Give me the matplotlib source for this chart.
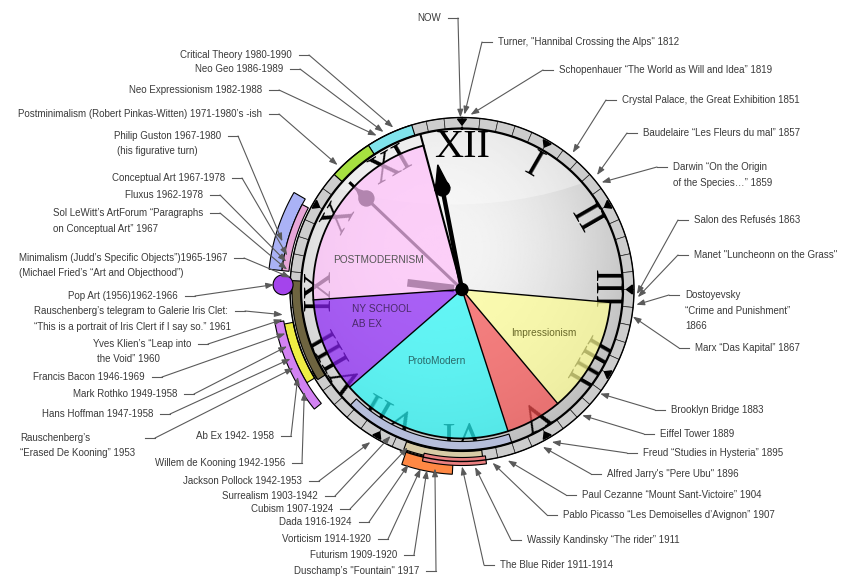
import numpy as np
import matplotlib.pyplot as plt
from matplotlib.patches import Polygon, Circle, Ellipse
from matplotlib import font_manager as fm

# ---------------- data ----------------
numerals = ['XII', 'I', 'II', 'III', 'IIII', 'V', 'VI', 'VII', 'VIII', 'IX', 'X', 'XI']

# movements drawn as sectors of the face, degrees clockwise from XII
move_names = ['POSTMODERNISM', 'NY SCHOOL\nAB EX', 'ProtoModern', '', 'Impressionism']
move_from = [266, 229, 162, 140, 95]
move_to = [345, 266, 229, 162, 140]

# coloured arcs around the rim (degrees clockwise from XII)
band_from = [327, 312, 276, 276, 238, 239, 231, 162, 173, 183, 172]
band_to = [343, 327, 300, 298, 273, 259, 260, 224, 200, 199, 193]

# events, right hand side: text and clock angle the arrow points at
right_text = [
    'Turner, "Hannibal Crossing the Alps" 1812',
    'Schopenhauer \u201cThe World as Will and Idea\u201d 1819',
    'Crystal Palace, the Great Exhibition 1851',
    'Baudelaire \u201cLes Fleurs du mal\u201d 1857',
    'Darwin \u201cOn the Origin\nof the Species\u2026\u201d 1859',
    'Salon des Refus\u00e9s 1863',
    'Manet "Luncheonn on the Grass"',
    'Dostoyevsky\n\u201cCrime and Punishment\u201d\n1866',
    'Marx \u201cDas Kapital\u201d 1867',
    'Brooklyn Bridge 1883',
    'Eiffel Tower 1889',
    'Freud \u201cStudies in Hysteria\u201d 1895',
    'Alfred Jarry\'s "Pere Ubu" 1896',
    'Paul Cezanne \u201cMount Sant-Victoire\u201d 1904',
    'Pablo Picasso \u201cLes Demoiselles d\u2019Avignon\u201d 1907',
    'Wassily Kandinsky \u201cThe rider\u201d 1911',
    'The Blue Rider 1911-1914',
]
right_deg = [0.8, 2.8, 39, 49.7, 52.5, 91.5, 92.5, 95, 99, 127, 136.3,
             149.5, 152.8, 165, 170, 175.8, 180]

# events, left hand side
left_text = [
    'NOW',
    'Critical Theory 1980-1990',
    'Neo Geo 1986-1989',
    'Neo Expressionism 1982-1988',
    'Postminimalism (Robert Pinkas-Witten) 1971-1980\u2019s -ish',
    'Philip Guston 1967-1980\n(his figurative turn)',
    'Conceptual Art 1967-1978',
    'Fluxus 1962-1978',
    'Sol LeWitt\u2019s ArtForum \u201cParagraphs\non Conceptual Art\u201d 1967',
    'Minimalism (Judd\u2019s Specific Objects\u201d)1965-1967\n(Michael Fried\u2019s \u201cArt and Objecthood\u201d)',
    'Pop Art (1956)1962-1966',
    'Rauschenberg\u2019s telegram to Galerie Iris Clet:\n\u201cThis is a portrait of Iris Clert if I say so.\u201d 1961',
    'Yves Klien\u2019s \u201cLeap into\nthe Void\u201d 1960',
    'Francis Bacon 1946-1969',
    'Mark Rothko 1949-1958',
    'Hans Hoffman 1947-1958',
    'Rauschenberg\u2019s\n\u201cErased De Kooning\u201d 1953',
    'Ab Ex 1942- 1958',
    'Willem de Kooning 1942-1956',
    'Jackson Pollock 1942-1953',
    'Surrealism 1903-1942',
    'Cubism 1907-1924',
    'Dada 1916-1924',
    'Vorticism 1914-1920',
    'Futurism 1909-1920',
    'Duschamp\u2019s "Fountain" 1917',
]
left_deg = [359.5, 337, 333.5, 331, 315, 285, 281, 279, 276.5, 274, 271.5,
            262, 260.5, 256, 252, 248, 245, 242, 237, 211, 206, 199, 197,
            193, 191, 188.6]

# ---------------- layout / style ----------------
cx, cy = 462, 289.5
R_WEDGE, R_FACE, R_RING, R_NUM = 149, 161, 172, 142

move_colors = [(1.0, 0.75, 0.98), (0.54, 0.13, 0.97), (0.15, 0.97, 0.97),
               (0.97, 0.31, 0.31), (1.0, 1.0, 0.58)]
move_text_colors = ['#555555', '#4a2a6a', '#2a6a6a', '#000000', '#6a6a2a']
move_text_xy = [(333, 260), (352, 309), (407, 361), (0, 0), (511, 333)]

band_r_in = [161, 161, 181, 174, 161, 172, 181, 152, 162, 171, 168]
band_r_out = [172, 172, 194, 181, 170, 181, 190, 161, 170, 185, 176]
band_colors = ['#80e4ec', '#a6e040', '#aab2f6', '#e8a6d8', '#6e6440', '#eeee44',
               '#d282f2', '#b6bedb', '#d8cba6', '#ff8844', '#ea8080']

right_tip_r = [175, 175, 176, 177, 176, 175, 176, 175, 173, 173, 174,
               177, 177, 177, 176, 178, 177]
right_xy = [(498, 42), (559, 70), (622, 100), (643, 133), (673, 167), (694, 220),
            (694, 255), (685, 295), (695, 348), (671, 410), (660, 434), (643, 453),
            (607, 474), (582, 495), (563, 515), (527, 540), (500, 565)]

left_tip_r = [172, 176, 176, 176, 176, 186, 178, 178, 176, 172, 188,
              181, 182, 182, 184, 185, 186, 186, 188, 178, 163, 167, 183,
              184, 184, 181]
left_xy = [(441, 18), (292, 55), (283, 69), (262, 90), (262, 114), (221, 136),
           (225, 178), (203, 195), (203, 213), (227, 258), (178, 296), (228, 311),
           (191, 344), (145, 377), (177, 394), (153, 414), (90, 438), (274, 436),
           (285, 463), (302, 481), (318, 496), (333, 509), (352, 522), (371, 539),
           (397, 555), (419, 571)]
left_indent = {5: 3, 12: 4}
left_lead_x = {16: 145}

LINE_H = 15.5
TXT = '#3a3a3a'
LEAD = '#5a5a5a'

names = {f.name for f in fm.fontManager.ttflist}
if 'Liberation Sans Narrow' in names:
    LBL_FONT, LBL_SIZE = 'Liberation Sans Narrow', 8.2
else:
    LBL_FONT, LBL_SIZE = 'Liberation Sans', 7.0
NUM_FONT, NUM_SIZE = 'Liberation Serif', 29


def pt(r, deg):
    t = np.radians(deg)
    return cx + r * np.sin(t), cy - r * np.cos(t)


def arc(r, d1, d2, n=60):
    x, y = pt(r, np.linspace(d1, d2, n))
    return np.column_stack([x, y])


def band(r1, r2, d1, d2):
    return np.vstack([arc(r2, d1, d2), arc(r1, d2, d1)])


def local(u, v, deg):
    t = np.radians(deg)
    return (cx + u * np.sin(t) + v * np.cos(t), cy - u * np.cos(t) + v * np.sin(t))


fig = plt.figure(figsize=(8.53, 5.88), dpi=100)
ax = fig.add_axes([0, 0, 1, 1])

# clock face with soft shading
face = Circle((cx, cy), R_FACE, facecolor='none', edgecolor='none')
ax.add_patch(face)
yy, xx = np.mgrid[cy - R_FACE:cy + R_FACE:300j, cx - R_FACE:cx + R_FACE:300j]
d = np.hypot(xx - (cx - 25), yy - (cy - 40)) / R_FACE
img = 0.96 - 0.13 * np.clip(d, 0, 1.3) ** 2
im = ax.imshow(img, cmap='gray', vmin=0, vmax=1, origin='upper', zorder=1,
               extent=(cx - R_FACE, cx + R_FACE, cy + R_FACE, cy - R_FACE),
               interpolation='bilinear')
im.set_clip_path(face)
hl = Ellipse((cx - 10, cy - 190), 430, 210, facecolor='white', alpha=0.35,
             edgecolor='none', zorder=1.2)
ax.add_patch(hl)
hl.set_clip_path(face)

ax.set_xlim(0, 853)
ax.set_ylim(588, 0)
ax.set_aspect('auto')
ax.axis('off')

# numerals
for i, s in enumerate(numerals):
    x, y = pt(R_NUM, i * 30)
    ax.text(x, y, s, rotation=-i * 30, rotation_mode='anchor', ha='center',
            va='center', fontsize=NUM_SIZE, family=NUM_FONT, color='black', zorder=2)

# second hand and hour hand (seen through the tinted overlay)
sec = 313.6
x1, y1 = pt(154, sec)
ax.plot([cx, x1], [cy, y1], color='black', lw=2.2, zorder=2.5)
ax.add_patch(Circle(pt(132, sec), 7.5, color='black', zorder=2.5))
ax.add_patch(Polygon([local(146, 0, sec), local(131, 7, sec), local(131, -7, sec)],
                     closed=True, color='black', zorder=2.5))
hx0, hy0 = pt(8, 277)
hx1, hy1 = pt(55, 277)
ax.plot([hx0, hx1], [hy0, hy1], color='black', lw=5.5, solid_capstyle='butt', zorder=2.5)

# movement sectors
for a, b, c in zip(move_from, move_to, move_colors):
    poly = np.vstack([[cx, cy], arc(R_WEDGE, a, b)])
    ax.add_patch(Polygon(poly, closed=True, facecolor=c, alpha=0.7, lw=0, zorder=3))
edges = sorted(set(move_from + move_to))
for e in edges:
    r = R_FACE if e == 345 else R_WEDGE
    x, y = pt(r, e)
    ax.plot([cx, x], [cy, y], color='black', lw=1.5 if e == 345 else 1.0, zorder=4)
a = arc(R_WEDGE, min(move_from), max(move_to), 200)
ax.plot(a[:, 0], a[:, 1], color='black', lw=1.3, zorder=4)

for s, (x, y), c in zip(move_names, move_text_xy, move_text_colors):
    for k, line in enumerate(s.split('\n')):
        ax.text(x, y + k * 15, line, ha='left', va='center', color=c,
                family=LBL_FONT, fontsize=LBL_SIZE + 0.3, zorder=4)

# rim: 60 minute cells
for i in range(60):
    ax.add_patch(Polygon(band(R_FACE, R_RING, i * 6, i * 6 + 6), closed=True,
                         facecolor='#cdcdcd', edgecolor='#222222', lw=0.5, zorder=5))
for i in range(12):
    d = i * 30
    ax.add_patch(Polygon([pt(170.5, d - 1.5), pt(170.5, d + 1.5), pt(164.5, d)],
                         closed=True, color='black', zorder=5.5))

# coloured arcs
for a1, a2, r1, r2, c in zip(band_from, band_to, band_r_in, band_r_out, band_colors):
    ax.add_patch(Polygon(band(r1, r2, a1, a2), closed=True, facecolor=c,
                         edgecolor='black', lw=0.8, zorder=5.6))
for r, w in [(R_FACE, 1.6), (R_RING, 1.0)]:
    a = arc(r, 0, 360, 300)
    ax.plot(a[:, 0], a[:, 1], color='black', lw=w, zorder=5.7)
ax.add_patch(Circle(pt(179, 271.5), 10, facecolor='#a444ec', edgecolor='black',
                    lw=0.8, zorder=5.8))

# minute hand
mh = 349
x1, y1 = pt(100, mh)
ax.plot([cx, x1], [cy, y1], color='black', lw=3.2, zorder=6)
ax.add_patch(Circle(pt(103, mh), 7.5, color='black', zorder=6))
ax.add_patch(Polygon([local(127, 0, mh), local(102, 7.4, mh), local(102, -7.4, mh)],
                     closed=True, color='black', zorder=6))
ax.add_patch(Circle((cx, cy), 6, color='black', zorder=6))

# annotations
arrow = dict(arrowstyle='-|>,head_length=0.6,head_width=0.22', color=LEAD,
             lw=0.8, shrinkA=0, shrinkB=0, mutation_scale=8)
for s, deg, r, (x, y) in zip(right_text, right_deg, right_tip_r, right_xy):
    for k, line in enumerate(s.split('\n')):
        ax.text(x, y + k * LINE_H, line, ha='left', va='center', color=TXT,
                family=LBL_FONT, fontsize=LBL_SIZE, zorder=7)
    ax.plot([x - 6, x - 16], [y, y], color=LEAD, lw=0.8, zorder=7)
    ax.annotate('', xy=pt(r, deg), xytext=(x - 16, y), arrowprops=arrow, zorder=7)

renderer = fig.canvas.get_renderer()
for i, (s, deg, r, (x, y)) in enumerate(zip(left_text, left_deg, left_tip_r, left_xy)):
    lines = s.split('\n')
    t0 = ax.text(x, y, lines[0], ha='right', va='center', color=TXT,
                 family=LBL_FONT, fontsize=LBL_SIZE, zorder=7)
    if len(lines) > 1:
        bb = t0.get_window_extent(renderer)
        x0 = ax.transData.inverted().transform((bb.x0, bb.y0))[0]
        for k, line in enumerate(lines[1:], 1):
            ax.text(x0 + left_indent.get(i, 0), y + k * LINE_H, line, ha='left',
                    va='center', color=TXT, family=LBL_FONT, fontsize=LBL_SIZE, zorder=7)
    xs = left_lead_x.get(i, x + 7)
    ax.plot([xs, xs + 10], [y, y], color=LEAD, lw=0.8, zorder=7)
    ax.annotate('', xy=pt(r, deg), xytext=(xs + 10, y), arrowprops=arrow, zorder=7)

fig.savefig('out.png', dpi=100)
